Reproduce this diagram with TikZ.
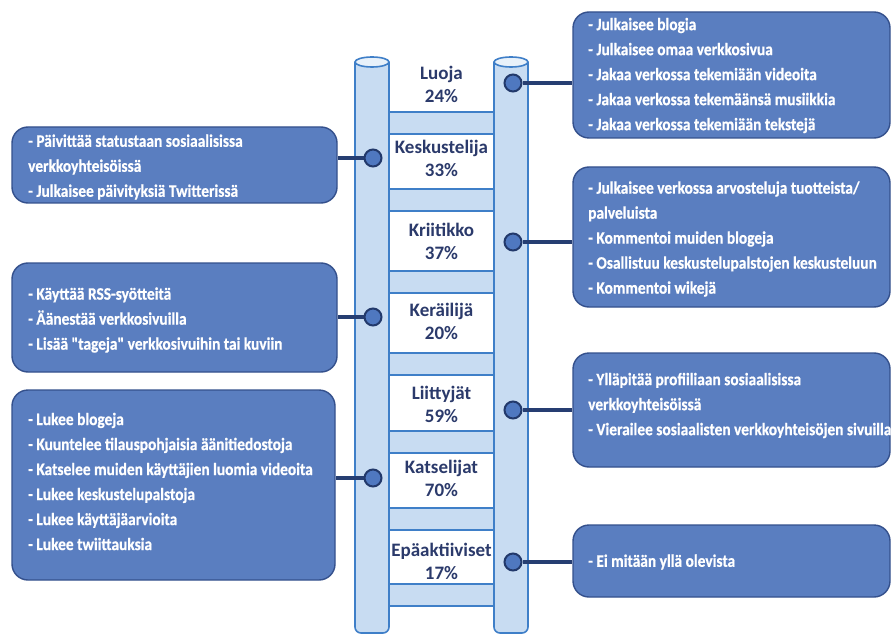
\documentclass[tikz,border=0pt]{standalone}
\usepackage{fontspec}
\setmainfont{Carlito}
\newfontfamily\boxfont[FakeStretch=0.88, FakeBold=0.6, BoldFont={Carlito Bold}, BoldFeatures={FakeStretch=0.88, FakeBold=0.6}]{Carlito}
\definecolor{navy}{HTML}{2B3A6B}
\definecolor{poleblue}{HTML}{3F7FC8}
\definecolor{polefill}{HTML}{C8DCF2}
\definecolor{capfill}{HTML}{E8F1FA}
\definecolor{boxfill}{HTML}{5A7EC0}
\definecolor{boxline}{HTML}{34508C}
\definecolor{dotfill}{HTML}{4F78C0}
\definecolor{dotline}{HTML}{22396B}
\definecolor{conncol}{HTML}{263E72}
\tikzset{
  pole/.style={draw=poleblue, fill=polefill, line width=1.6pt, rounded corners=6pt},
  polecap/.style={draw=poleblue, fill=capfill, line width=1.6pt},
  rung/.style={draw=poleblue, fill=polefill, line width=1.6pt},
  lbl/.style={text=navy, font=\fontsize{19}{23}\selectfont\bfseries, align=center},
  infobox/.style={draw=boxline, fill=boxfill, line width=1.4pt, rounded corners=16pt, inner sep=0pt},
  boxtext/.style={text=white, font=\boxfont\bfseries\fontsize{17.5}{25}\selectfont, align=left, anchor=west, inner sep=0pt},
  dot/.style={circle, draw=dotline, fill=dotfill, line width=2pt, minimum size=17pt, inner sep=0pt},
  conn/.style={draw=conncol, line width=4pt}
}
\begin{document}
\begin{tikzpicture}[x=1pt,y=-1pt]
\useasboundingbox (0,0) rectangle (893,636);
\fill[white] (0,0) rectangle (893,636);
% rungs
\foreach \t in {112,189,271,353,431,508,584}{
  \filldraw[rung] (389,\t) rectangle (494,\t+22);
}
% poles
\filldraw[pole] (355,62) -- (355,633) -- (389,633) -- (389,62);
\filldraw[pole] (494,62) -- (494,633) -- (528,633) -- (528,62);
\filldraw[polecap] (372,62) ellipse [x radius=17, y radius=5];
\filldraw[polecap] (511,62) ellipse [x radius=17, y radius=5];
% labels
\node[lbl] (l1) at (441.5,84) {Luoja\\24\%};
\node[lbl] (l2) at (441.5,158.5) {Keskustelija\\33\%};
\node[lbl] (l3) at (441.5,241.5) {Kriitikko\\37\%};
\node[lbl] (l4) at (441.5,321) {Keräilijä\\20\%};
\node[lbl] (l5) at (441.5,404) {Liittyjät\\59\%};
\node[lbl] (l6) at (441.5,478.5) {Katselijat\\70\%};
\node[lbl] (l7) at (441.5,561.5) {Epäaktiiviset\\17\%};
% boxes
\node[infobox, minimum width=317pt, minimum height=126pt] (b1) at (731.5,75) {};
\node[infobox, minimum width=325pt, minimum height=76pt] (b2) at (174.5,165) {};
\node[infobox, minimum width=317pt, minimum height=140pt] (b3) at (731.5,237) {};
\node[infobox, minimum width=325pt, minimum height=109pt] (b4) at (174.5,317.5) {};
\node[infobox, minimum width=317pt, minimum height=114pt] (b5) at (731.5,410) {};
\node[infobox, minimum width=323pt, minimum height=190pt] (b6) at (173.5,485) {};
\node[infobox, minimum width=317pt, minimum height=72pt] (b7) at (731.5,561) {};
% box texts
\node[boxtext] (t1) at (588,75.5) {- Julkaisee blogia\\- Julkaisee omaa verkkosivua\\- Jakaa verkossa tekemiään videoita\\- Jakaa verkossa tekemäänsä musiikkia\\- Jakaa verkossa tekemiään tekstejä};
\node[boxtext] (t2) at (28,167) {- Päivittää statustaan sosiaalisissa\\verkkoyhteisöissä\\- Julkaisee päivityksiä Twitterissä};
\node[boxtext] (t3) at (588,239) {- Julkaisee verkossa arvosteluja tuotteista/\\palveluista\\- Kommentoi muiden blogeja\\- Osallistuu keskustelupalstojen keskusteluun\\- Kommentoi wikejä};
\node[boxtext] (t4) at (28,320) {- Käyttää RSS-syötteitä\\- Äänestää verkkosivuilla\\- Lisää "tageja" verkkosivuihin tai kuviin};
\node[boxtext] (t5) at (588,405.5) {- Ylläpitää profiiliaan sosiaalisissa\\verkkoyhteisöissä\\- Vierailee sosiaalisten verkkoyhteisöjen sivuilla};
\node[boxtext] (t6) at (28,481.5) {- Lukee blogeja\\- Kuuntelee tilauspohjaisia äänitiedostoja\\- Katselee muiden käyttäjien luomia videoita\\- Lukee keskustelupalstoja\\- Lukee käyttäjäarvioita\\- Lukee twiittauksia};
\node[boxtext] (t7) at (588,562) {- Ei mitään yllä olevista};
% dots
\node[dot] (d1) at (513,83) {};
\node[dot] (d2) at (373,158) {};
\node[dot] (d3) at (513,242) {};
\node[dot] (d4) at (373,317) {};
\node[dot] (d5) at (513,410) {};
\node[dot] (d6) at (373,478) {};
\node[dot] (d7) at (513,562) {};
% connectors
\draw[conn] (d1) -- (d1 -| b1.west);
\draw[conn] (d2) -- (d2 -| b2.east);
\draw[conn] (d3) -- (d3 -| b3.west);
\draw[conn] (d4) -- (d4 -| b4.east);
\draw[conn] (d5) -- (d5 -| b5.west);
\draw[conn] (d6) -- (d6 -| b6.east);
\draw[conn] (d7) -- (d7 -| b7.west);
\end{tikzpicture}
\end{document}
